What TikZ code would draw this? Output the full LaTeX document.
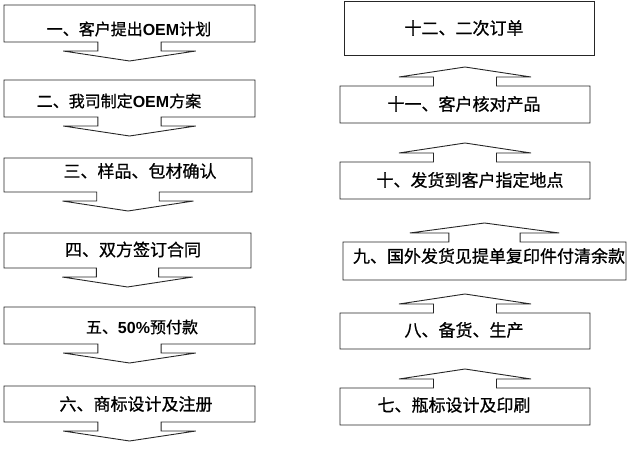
\documentclass[tikz,border=0pt]{standalone}
\usepackage{fontspec}
\setmainfont{Noto Sans CJK SC}[FakeBold=0.8]
\newfontfamily\arialfont{Liberation Sans}
\usepackage{tikz}

\tikzset{
   outline/.style={draw=black!85, line width=0.9pt, line join=miter},
   steptext/.style={font=\fontsize{17}{19}\selectfont, inner sep=0pt},
   smalltext/.style={font=\fontsize{16}{18}\selectfont, inner sep=0pt}
}

\newcommand\latinb[1]{{\arialfont\bfseries\fontsize{16}{18}\selectfont #1}}

% box with a down arrow below it: left, top, right, bottom
\newcommand\downbox[4]{%
   \pgfmathsetmacro\mx{(#1+#3)/2}
   \pgfmathsetmacro\sw{0.126*(#3-#1)}
   \pgfmathsetmacro\hw{0.264*(#3-#1)}
   \draw[outline] (#1,#2) -- (#3,#2) -- (#3,#4) -- (\mx+\sw,#4) -- (\mx+\sw,#4+9)
      -- (\mx+\hw,#4+9) -- (\mx,#4+19) -- (\mx-\hw,#4+9) -- (\mx-\sw,#4+9)
      -- (\mx-\sw,#4) -- (#1,#4) -- cycle;}

% box with an up arrow above it: left, top, right, bottom
\newcommand\upbox[4]{%
   \pgfmathsetmacro\mx{(#1+#3)/2}
   \pgfmathsetmacro\sw{0.126*(#3-#1)}
   \pgfmathsetmacro\hw{0.264*(#3-#1)}
   \draw[outline] (#1,#4) -- (#1,#2) -- (\mx-\sw,#2) -- (\mx-\sw,#2-9)
      -- (\mx-\hw,#2-9) -- (\mx,#2-19) -- (\mx+\hw,#2-9) -- (\mx+\sw,#2-9)
      -- (\mx+\sw,#2) -- (#3,#2) -- (#3,#4) -- cycle;}

\begin{document}
\begin{tikzpicture}[x=1pt, y=-1pt]
   \useasboundingbox (0,0) rectangle (640,449);

   % left column, going down
   \foreach \l/\t/\r/\b in {4/5/255/42, 4/80/255/117, 4/158/252/192,
                            4/233/251/268, 4/307/255/344, 4/386/255/422}
      \downbox{\l}{\t}{\r}{\b};

   % right column, going up
   \foreach \l/\t/\r/\b in {340/388/590/425, 340/313/590/349, 343/242/626/280,
                            340/162/590/199, 340/86/590/123}
      \upbox{\l}{\t}{\r}{\b};
   \draw[outline] (344,1) rectangle (594,55);

   \node[smalltext] (s1) at (129,29) {一、客户提出\latinb{OEM}计划};
   \node[smalltext] (s2) at (119,101) {二、我司制定\latinb{OEM}方案};
   \node[steptext] (s3) at (140,171) {三、样品、包材确认};
   \node[steptext] (s4) at (133,249.5) {四、双方签订合同};
   \node[smalltext] (s5) at (142,327) {五、\latinb{50\%}预付款};
   \node[steptext] (s6) at (136,404) {六、商标设计及注册};

   \node[steptext] (s7) at (454,405) {七、瓶标设计及印刷};
   \node[steptext] (s8) at (464,330) {八、备货、生产};
   \node[steptext] (s9) at (489,256) {九、国外发货见提单复印件付清余款};
   \node[steptext] (s10) at (470,180) {十、发货到客户指定地点};
   \node[steptext] (s11) at (464,104) {十一、客户核对产品};
   \node[steptext] (s12) at (464,28) {十二、二次订单};
\end{tikzpicture}
\end{document}
